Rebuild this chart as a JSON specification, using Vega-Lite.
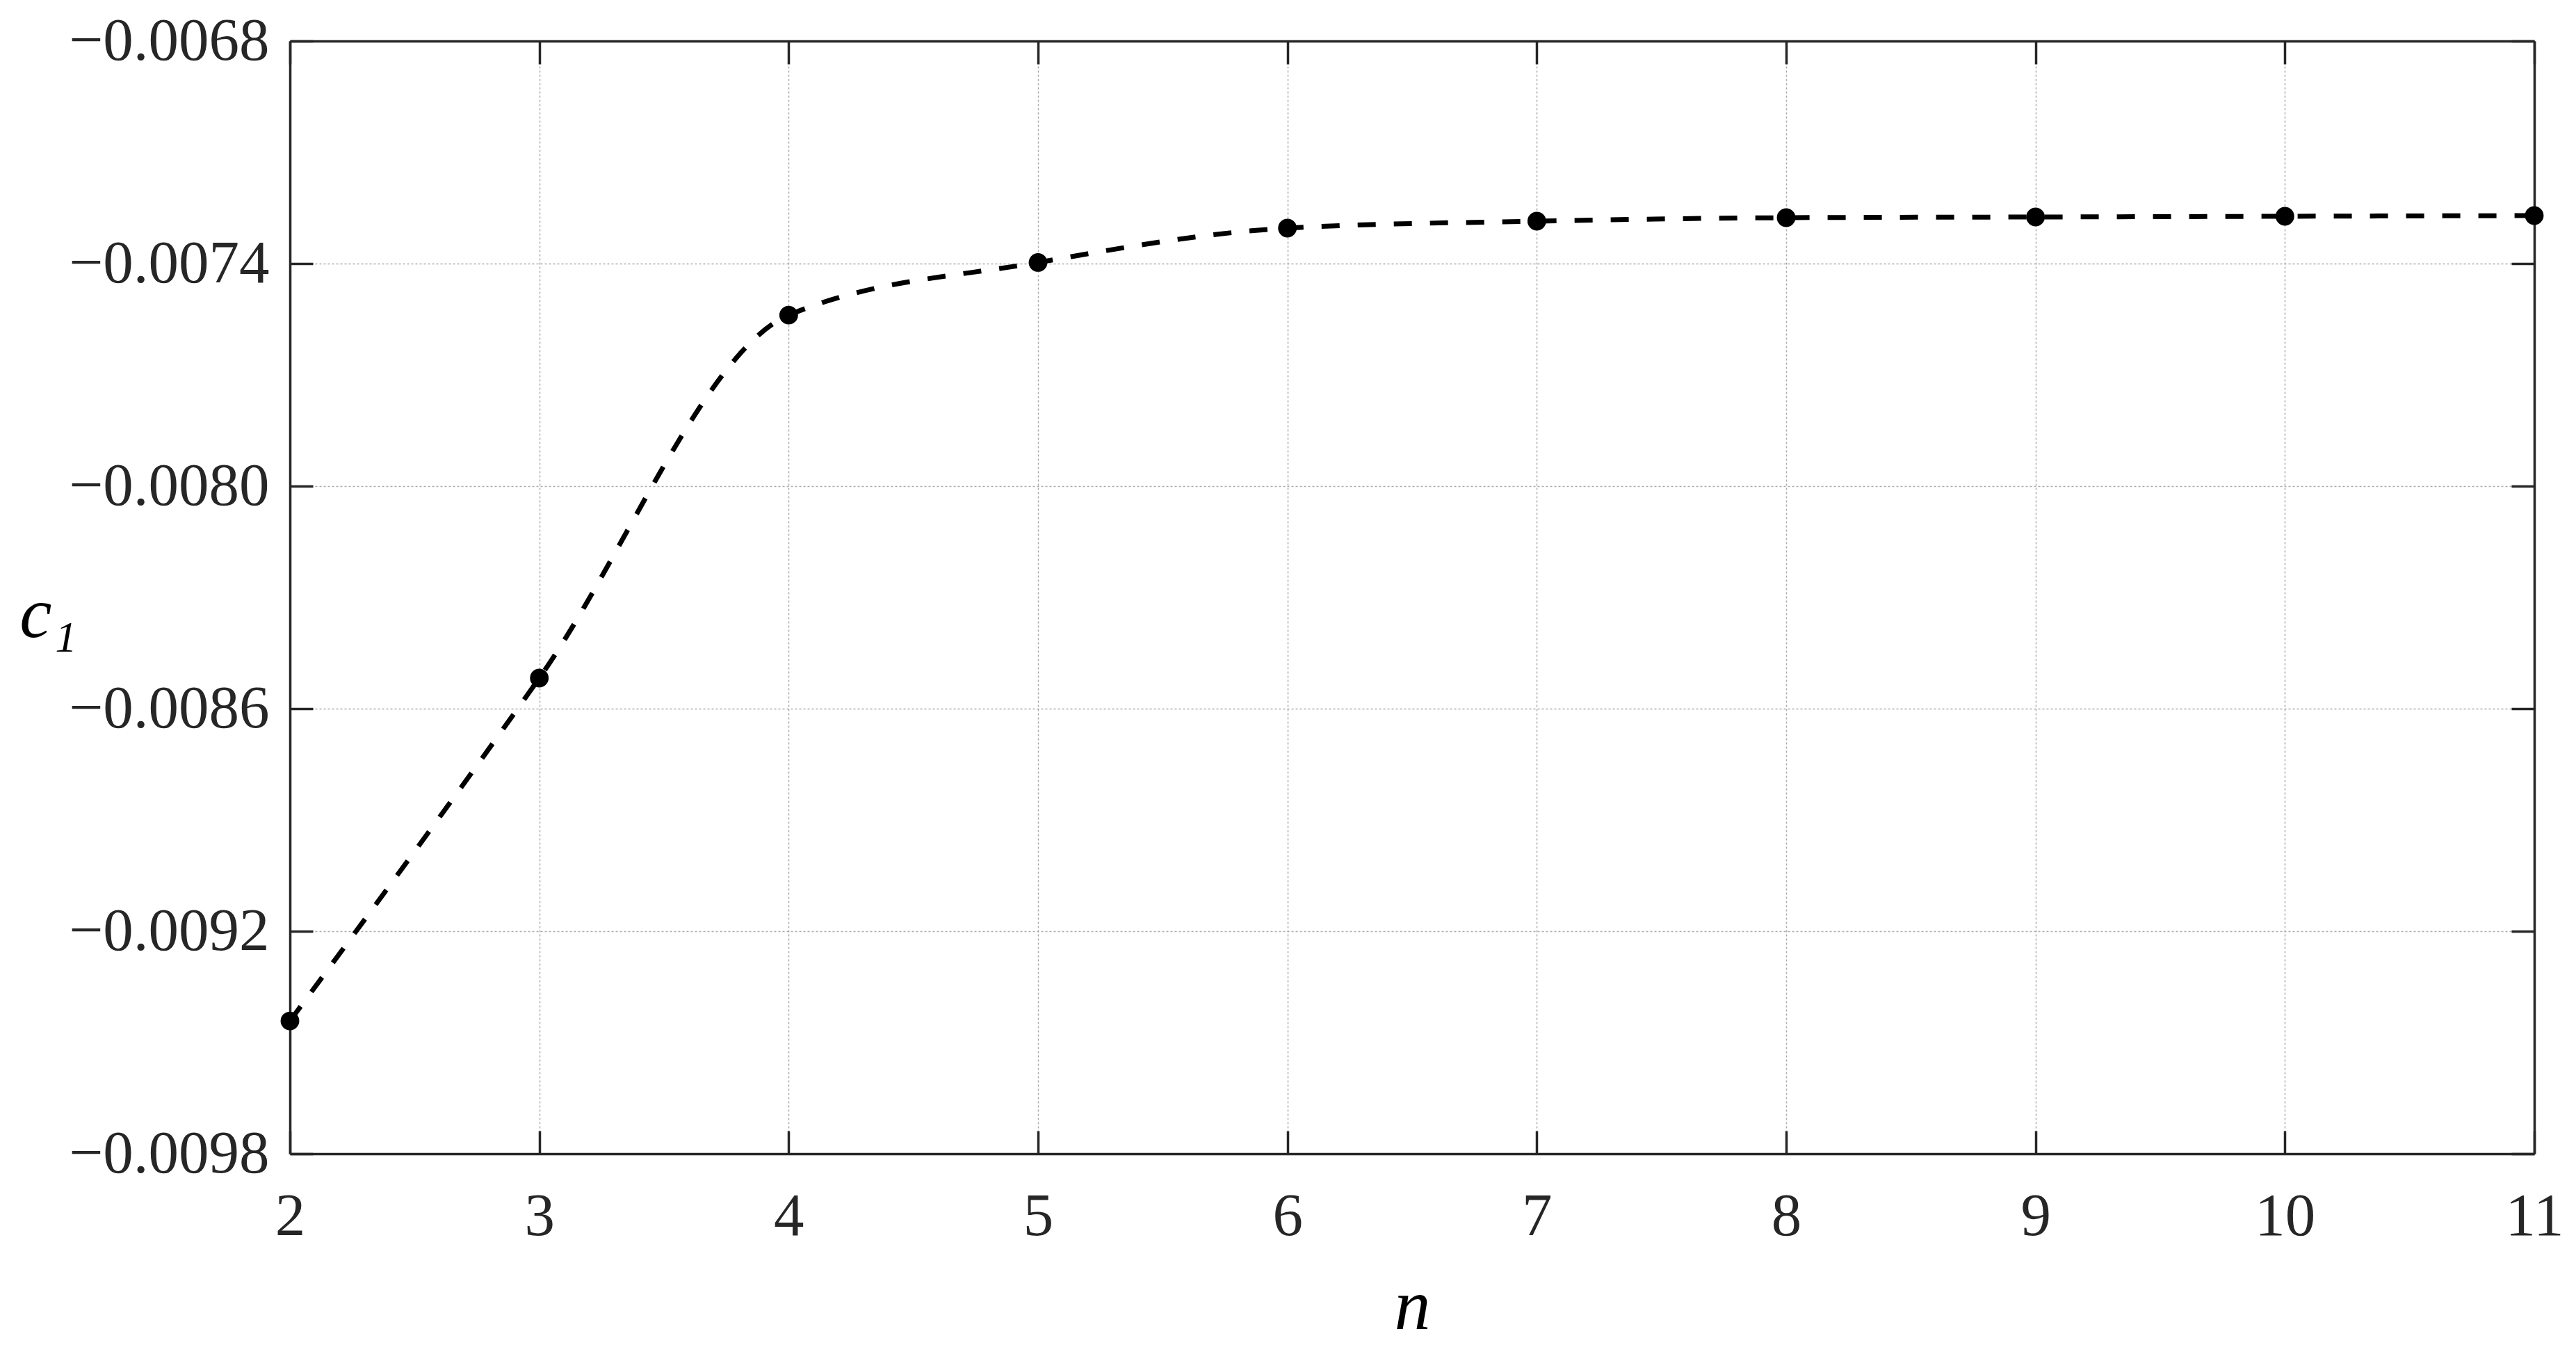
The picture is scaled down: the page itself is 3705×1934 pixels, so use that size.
{
  "$schema": "https://vega.github.io/schema/vega-lite/v6.json",
  "autosize": "none",
  "width": 3228,
  "height": 1600,
  "padding": {"left": 417, "top": 59, "right": 60, "bottom": 275},
  "background": "white",
  "config": {
    "view": {"stroke": null},
    "axis": {
      "labelFont": "Liberation Serif",
      "titleFont": "Liberation Serif",
      "labelFontSize": 87,
      "labelLimit": 0,
      "labelColor": "#262626",
      "domainColor": "#262626",
      "domainWidth": 3.5,
      "tickColor": "#262626",
      "tickWidth": 3.5,
      "tickSize": -33,
      "gridColor": "#ababab",
      "gridWidth": 1.5,
      "gridDash": [3, 3]
    }
  },
  "data": {
    "values": [
      {"n": 2, "c1": -0.009442},
      {"n": 3, "c1": -0.0085175},
      {"n": 4, "c1": -0.007539},
      {"n": 5, "c1": -0.007397},
      {"n": 6, "c1": -0.0073044},
      {"n": 7, "c1": -0.0072856},
      {"n": 8, "c1": -0.0072763},
      {"n": 9, "c1": -0.0072744},
      {"n": 10, "c1": -0.0072725},
      {"n": 11, "c1": -0.0072706}
    ]
  },
  "resolve": {"axis": {"x": "independent", "y": "independent"}},
  "layer": [
    {
      "mark": {"type": "line", "color": "black", "strokeWidth": 7, "strokeDash": [26, 26], "interpolate": "monotone"},
      "encoding": {
        "x": {
          "field": "n", "type": "quantitative",
          "scale": {"domain": [2, 11], "nice": false, "zero": false},
          "axis": {
            "orient": "bottom",
            "values": [2, 3, 4, 5, 6, 7, 8, 9, 10, 11],
            "format": "d",
            "grid": true,
            "labelPadding": 80,
            "labelFlush": false,
            "title": "n",
            "titleFontSize": 104,
            "titleFontStyle": "italic",
            "titleFontWeight": "normal",
            "titleColor": "black",
            "titleBaseline": "alphabetic",
            "titleY": 251
          }
        },
        "y": {
          "field": "c1", "type": "quantitative",
          "scale": {"domain": [-0.0098, -0.0068], "nice": false, "zero": false},
          "axis": {
            "orient": "left",
            "values": [-0.0098, -0.0092, -0.0086, -0.008, -0.0074, -0.0068],
            "format": ".4f",
            "grid": true,
            "labelPadding": 63,
            "labelFlush": false,
            "title": "c₁",
            "titleAngle": 0,
            "titleFontSize": 104,
            "titleFontStyle": "italic",
            "titleFontWeight": "normal",
            "titleColor": "black",
            "titleAlign": "center",
            "titleBaseline": "middle",
            "titleX": -348,
            "titleY": 825
          }
        }
      }
    },
    {
      "mark": {"type": "point", "filled": true, "color": "black", "opacity": 1, "size": 720},
      "encoding": {
        "x": {
          "field": "n", "type": "quantitative",
          "scale": {"domain": [2, 11], "nice": false, "zero": false},
          "axis": {"orient": "top", "values": [2, 3, 4, 5, 6, 7, 8, 9, 10, 11], "labels": false, "grid": false, "title": null}
        },
        "y": {
          "field": "c1", "type": "quantitative",
          "scale": {"domain": [-0.0098, -0.0068], "nice": false, "zero": false},
          "axis": {"orient": "right", "values": [-0.0098, -0.0092, -0.0086, -0.008, -0.0074, -0.0068], "labels": false, "grid": false, "title": null}
        }
      }
    }
  ]
}
